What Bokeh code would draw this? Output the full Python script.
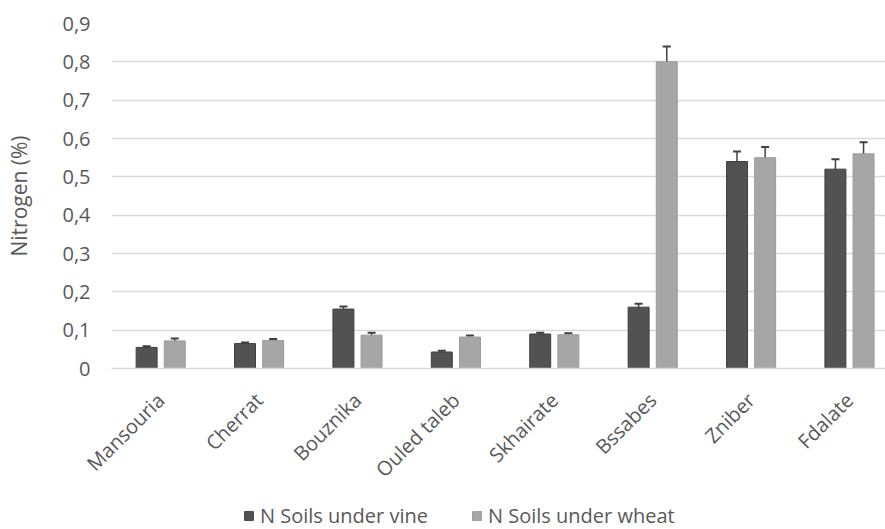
from bokeh.plotting import figure
from bokeh.layouts import column
from bokeh.models import (ColumnDataSource, Range1d, FixedTicker, Whisker, TeeHead,
                          Legend, LegendItem)
from bokeh.transform import dodge
from bokeh.embed import file_html
from bokeh.resources import INLINE

sites = ["Mansouria", "Cherrat", "Bouznika", "Ouled taleb", "Skhairate", "Bssabes", "Zniber", "Fdalate"]
vine = [0.055, 0.065, 0.155, 0.043, 0.090, 0.160, 0.540, 0.520]
vine_err = [0.003, 0.003, 0.007, 0.003, 0.003, 0.009, 0.026, 0.026]
wheat = [0.072, 0.073, 0.087, 0.082, 0.088, 0.800, 0.550, 0.560]
wheat_err = [0.006, 0.004, 0.006, 0.004, 0.004, 0.040, 0.028, 0.030]
y_ticks = [0.0, 0.1, 0.2, 0.3, 0.4, 0.5, 0.6, 0.7, 0.8, 0.9]
y_tick_labels = ["0", "0,1", "0,2", "0,3", "0,4", "0,5", "0,6", "0,7", "0,8", "0,9"]
series_names = ["N Soils under vine", "N Soils under wheat"]

VINE_C = "#525252"
WHEAT_C = "#a6a6a6"
TXT = "#595959"
FONT = "Open Sans"

src = ColumnDataSource(dict(
    x=list(range(len(sites))),
    vine=vine, wheat=wheat,
    vine_lo=[v - e for v, e in zip(vine, vine_err)],
    vine_hi=[v + e for v, e in zip(vine, vine_err)],
    wheat_lo=[v - e for v, e in zip(wheat, wheat_err)],
    wheat_hi=[v + e for v, e in zip(wheat, wheat_err)],
))

p = figure(frame_width=774, frame_height=345, output_backend="svg", toolbar_location=None,
           x_range=Range1d(-0.5, 7.366), y_range=Range1d(0, 0.9),
           min_border_top=23, min_border_right=0, min_border_left=111,
           min_border_bottom=130)
p.outline_line_color = None
p.background_fill_color = "white"

off = 0.143
bw = 0.213
p.vbar(x=dodge("x", -off), top="vine", width=bw, source=src,
       fill_color=VINE_C, line_color="#3f3f3f", line_width=1)
p.vbar(x=dodge("x", off), top="wheat", width=bw, source=src,
       fill_color=WHEAT_C, line_color="#9a9a9a", line_width=1)

for base_off, lo, hi in [(-off, "vine_lo", "vine_hi"), (off, "wheat_lo", "wheat_hi")]:
    w = Whisker(base=dodge("x", base_off), lower=lo, upper=hi, source=src,
                line_color="#404040", line_width=1.5,
                upper_head=TeeHead(size=8, line_color="#404040", line_width=2),
                lower_head=TeeHead(size=8, line_color="#404040", line_width=2))
    p.add_layout(w)

# grid
p.xgrid.grid_line_color = None
p.ygrid.grid_line_color = "#d9d9d9"
p.ygrid.grid_line_width = 1.5

# y axis
p.yaxis.ticker = FixedTicker(ticks=y_ticks)
p.yaxis.major_label_overrides = {t: l for t, l in zip(y_ticks, y_tick_labels)}
p.yaxis.axis_line_color = None
p.yaxis.major_tick_line_color = None
p.yaxis.minor_tick_line_color = None
p.yaxis.major_tick_out = 0
p.yaxis.major_tick_in = 0
p.yaxis.major_label_standoff = 21
p.yaxis.major_label_text_font = FONT
p.yaxis.major_label_text_font_size = "20px"
p.yaxis.major_label_text_color = TXT
p.yaxis.axis_label = "Nitrogen (%)"
p.yaxis.axis_label_text_font = FONT
p.yaxis.axis_label_text_font_size = "21px"
p.yaxis.axis_label_text_font_style = "normal"
p.yaxis.axis_label_text_color = TXT
p.yaxis.axis_label_standoff = 26

# x axis
p.xaxis.ticker = FixedTicker(ticks=list(range(len(sites))))
p.xaxis.major_label_overrides = {i: s for i, s in enumerate(sites)}
p.xaxis.major_label_orientation = 0.785398
p.xaxis.axis_line_color = "#d9d9d9"
p.xaxis.axis_line_width = 1.5
p.xaxis.major_tick_line_color = None
p.xaxis.minor_tick_line_color = None
p.xaxis.major_tick_out = 0
p.xaxis.major_tick_in = 0
p.xaxis.major_label_standoff = 28
p.xaxis.major_label_text_font = FONT
p.xaxis.major_label_text_font_size = "20px"
p.xaxis.major_label_text_color = TXT

# legend strip below the chart (its swatch renderers lie outside its range)
lg = figure(width=885, height=31, output_backend="svg", toolbar_location=None,
            x_range=Range1d(-100, -99), y_range=Range1d(0, 1),
            x_axis_location=None, y_axis_location=None, min_border=0)
lg.outline_line_color = None
lg.xgrid.visible = False
lg.ygrid.visible = False
s1 = lg.vbar(x="x", top="vine", width=bw, source=src, fill_color=VINE_C, line_color="#3f3f3f")
s2 = lg.vbar(x="x", top="wheat", width=bw, source=src, fill_color=WHEAT_C, line_color="#9a9a9a")

legend = Legend(items=[LegendItem(label=series_names[0], renderers=[s1]),
                       LegendItem(label=series_names[1], renderers=[s2])],
                orientation="horizontal", location=(132, 0))
legend.label_text_font = FONT
legend.label_text_font_size = "20px"
legend.label_text_color = TXT
legend.glyph_width = 11
legend.glyph_height = 11
legend.spacing = 43
legend.label_standoff = 6
legend.padding = 0
legend.margin = 0
legend.border_line_color = None
legend.background_fill_alpha = 0
lg.add_layout(legend, "center")

open("out.html", "w").write(file_html(column(p, lg, spacing=0), INLINE))
